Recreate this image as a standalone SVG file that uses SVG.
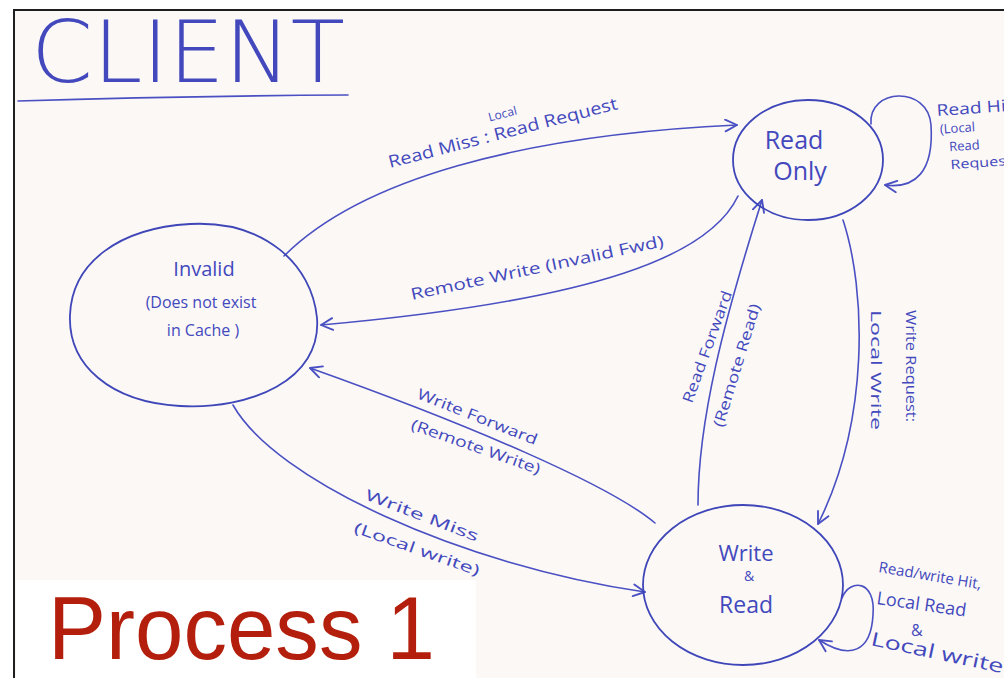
<svg xmlns="http://www.w3.org/2000/svg" width="1004" height="678" viewBox="0 0 1004 678">
<style>
.hand{font-family:"Open Sans","Liberation Sans",sans-serif;fill:#4349bd;}
.edge{fill:none;stroke:#4a50c2;stroke-width:1.6;stroke-linecap:round;}
.node{fill:none;stroke:#3f46b8;stroke-width:1.8;}
</style>
<defs>
<marker id="ah" viewBox="0 0 12 12" refX="11" refY="6" markerWidth="14" markerHeight="14" markerUnits="userSpaceOnUse" orient="auto">
<path d="M1,1 L11,6 L1,11" fill="none" stroke="#4a50c2" stroke-width="1.6" stroke-linecap="round" stroke-linejoin="round"/>
</marker>
</defs>
<rect x="0" y="0" width="1004" height="678" fill="#ffffff"/>
<rect x="14" y="10" width="1000" height="680" fill="#fbf8f6" stroke="#1e1e1e" stroke-width="2"/>

<g id="title">
<text x="31" y="82" font-family="DejaVu Sans, Liberation Sans, sans-serif" font-weight="200" font-size="86" fill="#4349bd" textLength="314" lengthAdjust="spacingAndGlyphs">CLIENT</text>
<path d="M18,101 Q180,96 348,95" class="edge"/>
</g>

<g id="connectors">
<path id="e-readmiss" class="edge" d="M284,256 C360,180 520,135 737,125" marker-end="url(#ah)"/>
<path id="e-remotewrite" class="edge" d="M738,196 C710,255 600,300 321,325" marker-end="url(#ah)"/>
<path id="e-writefwd" class="edge" d="M655,523 C610,485 470,425 310,368" marker-end="url(#ah)"/>
<path id="e-writemiss" class="edge" d="M233,405 C275,480 460,565 645,592" marker-end="url(#ah)"/>
<path id="e-readfwd" class="edge" d="M698,505 C698,420 724,320 762,200" marker-end="url(#ah)"/>
<path id="e-writereq" class="edge" d="M843,220 C866,290 870,420 818,524" marker-end="url(#ah)"/>
<path id="e-readhit" class="edge" d="M871,124 C868,88 928,85 931,125 C934,172 915,189 885,185" marker-end="url(#ah)"/>
<path id="e-rwhit" class="edge" d="M842,598 C850,578 876,580 873,615 C871,652 850,660 819,640" marker-end="url(#ah)"/>
</g>

<g id="edge-labels">
<g transform="translate(390,168) rotate(-14.5)">
<text class="hand" x="0" y="0" font-size="17" textLength="236" lengthAdjust="spacingAndGlyphs">Read Miss : Read Request</text>
<text class="hand" x="108" y="-20" font-size="12">Local</text>
</g>
<text class="hand" font-size="16" transform="translate(412,300) rotate(-12)" textLength="258" lengthAdjust="spacingAndGlyphs">Remote Write (Invalid Fwd)</text>
<text class="hand" font-size="15" transform="translate(416,398) rotate(21.6)" textLength="128" lengthAdjust="spacingAndGlyphs">Write Forward</text>
<text class="hand" font-size="15" transform="translate(410,429) rotate(19.5)" textLength="136" lengthAdjust="spacingAndGlyphs">(Remote Write)</text>
<text class="hand" font-size="15" transform="translate(692,404) rotate(-70)" textLength="118" lengthAdjust="spacingAndGlyphs">Read Forward</text>
<text class="hand" font-size="15" transform="translate(723,428) rotate(-73)" textLength="128" lengthAdjust="spacingAndGlyphs">(Remote Read)</text>
<text class="hand" font-size="14" transform="translate(906,310) rotate(90)" textLength="112" lengthAdjust="spacingAndGlyphs">Write Request:</text>
<text class="hand" font-size="15" transform="translate(871,310) rotate(90)" textLength="120" lengthAdjust="spacingAndGlyphs">Local Write</text>
<text class="hand" font-size="15" transform="translate(364,499) rotate(20.8)" textLength="120" lengthAdjust="spacingAndGlyphs">Write Miss</text>
<text class="hand" font-size="15" transform="translate(353,532) rotate(19.4)" textLength="132" lengthAdjust="spacingAndGlyphs">(Local write)</text>
<g transform="translate(937,116) rotate(-4)">
<text class="hand" x="0" y="0" font-size="16" textLength="76" lengthAdjust="spacingAndGlyphs">Read Hit</text>
<text class="hand" x="2" y="18" font-size="13">(Local</text>
<text class="hand" x="10" y="36" font-size="13">Read</text>
<text class="hand" x="10" y="54" font-size="13" textLength="66" lengthAdjust="spacingAndGlyphs">Request)</text>
</g>
<text class="hand" font-size="15" transform="translate(878,572) rotate(9.5)">Read/write Hit,</text>
<text class="hand" font-size="18" transform="translate(876,604) rotate(8)">Local Read</text>
<text class="hand" font-size="16" x="911" y="636">&amp;</text>
<text class="hand" font-size="19" transform="translate(870,645) rotate(12)" textLength="135" lengthAdjust="spacingAndGlyphs">Local write</text>
</g>

<g id="node-readonly">
<ellipse class="node" cx="808" cy="160" rx="75" ry="60"/>
<text class="hand" x="794" y="149" font-size="25" text-anchor="middle">Read</text>
<text class="hand" x="800" y="180" font-size="25" text-anchor="middle">Only</text>
</g>

<g id="node-invalid">
<path class="node" d="M317,318 C322,380 250,410 180,406 C110,402 68,365 70,315 C72,262 120,228 190,224 C265,220 312,265 317,318 Z"/>
<text class="hand" x="204" y="276" font-size="20" text-anchor="middle">Invalid</text>
<text class="hand" x="201" y="308" font-size="16" text-anchor="middle">(Does not exist</text>
<text class="hand" x="203" y="336" font-size="16" text-anchor="middle">in Cache )</text>
</g>

<g id="node-writeread">
<ellipse class="node" cx="743" cy="585" rx="100" ry="80"/>
<text class="hand" x="746" y="561" font-size="22" text-anchor="middle">Write</text>
<text class="hand" x="749" y="581" font-size="14" text-anchor="middle">&amp;</text>
<text class="hand" x="746" y="613" font-size="23" text-anchor="middle">Read</text>
</g>

<g id="caption">
<rect x="16" y="580" width="460" height="100" fill="#ffffff"/>
<text x="48" y="659" font-family="Liberation Sans, Arial, sans-serif" font-size="89" fill="#b41f0d" textLength="387" lengthAdjust="spacingAndGlyphs">Process 1</text>
</g>
</svg>
